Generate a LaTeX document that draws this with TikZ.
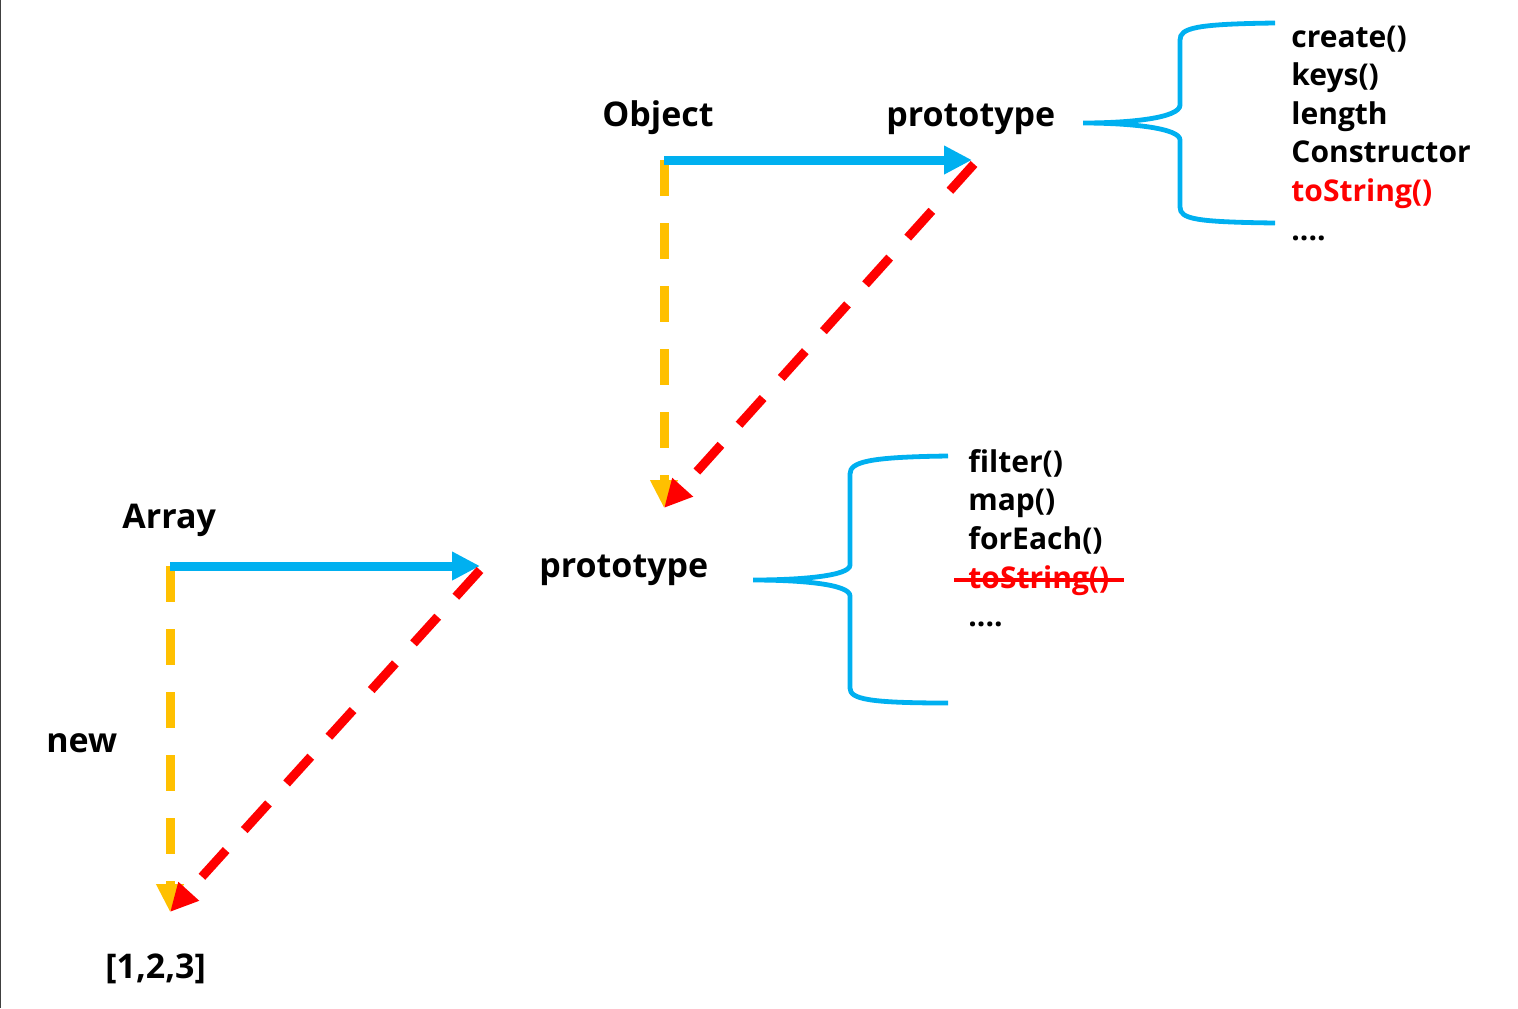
\documentclass[tikz,border=0pt]{standalone}
\usepackage{fontspec}
\setmainfont{Open Sans}
\usetikzlibrary{arrows.meta}
\definecolor{skyblue}{HTML}{00B0F0}
\definecolor{amber}{HTML}{FFC000}
\definecolor{hotred}{HTML}{FF0000}

\begin{document}
\begin{tikzpicture}[x=0.5pt, y=-0.5pt,
    label/.style={inner sep=0pt, anchor=base west, font=\fontsize{17}{20}\selectfont\bfseries},
    item/.style={inner sep=0pt, anchor=base west, font=\fontsize{15}{19}\selectfont\bfseries},
    link/.style={line width=4.5pt, skyblue, -{Triangle[length=14pt, width=13.5pt]}},
    newline/.style={line width=4.5pt, amber, dash pattern=on 18pt off 13.5pt, -{Triangle[length=14pt, width=13pt]}},
    protoline/.style={line width=4.5pt, hotred, dash pattern=on 18pt off 13.5pt, -{Triangle[length=14pt, width=13pt]}},
    brace/.style={line width=2.4pt, skyblue}]
    \useasboundingbox (0,0) rectangle (1518,1008);
    \draw[line width=0.5pt, black!75] (0.5,0) -- (0.5,1008);
    % labels
    \node[label] (object) at (602,126) {Object};
    \node[label] (objproto) at (886,126) {prototype};
    \node[label] (array) at (122,528) {Array};
    \node[label] (arrproto) at (539,577) {prototype};
    \node[label] (new) at (46,752) {new};
    \node[label] (inst) at (105,978) {[1,2,3]};
    % arrow ends
    \coordinate (o) at (664,160); \coordinate (op) at (972,160); \coordinate (ap) at (664,508);
    \coordinate (a) at (170,566); \coordinate (at) at (480,566); \coordinate (i) at (170,912);
    \draw[newline] (o) -- (ap);
    \draw[link] (o) -- (op);
    \draw[protoline] ([xshift=1pt, yshift=-2pt]op) -- (ap);
    \draw[newline] (a) -- (i);
    \draw[link] (a) -- (at);
    \draw[protoline] ([yshift=-2pt]at) -- (i);
    % Object.prototype members
    \draw[brace] (1275,23) .. controls (1195,24) and (1180,28) .. (1180,40) -- (1180,105)
        .. controls (1180,118) and (1130,123) .. (1083,123)
        .. controls (1130,123) and (1180,128) .. (1180,140) -- (1180,207)
        .. controls (1180,219) and (1195,222) .. (1275,223);
    \foreach \txt [count=\i from 0] in {create(), keys(), length, Constructor}
        \node[item] (up\i) at (1291,47+38.5*\i) {\txt};
    \node[item, hotred] (up4) at (1291,201) {toString()};
    \node[item] (up5) at (1291,240) {....};
    % Array.prototype members
    \draw[brace] (948,456) .. controls (868,457) and (850,462) .. (850,474) -- (850,565)
        .. controls (850,576) and (800,580) .. (753,580)
        .. controls (800,580) and (850,584) .. (850,596) -- (850,688)
        .. controls (850,699) and (868,703) .. (948,703);
    \foreach \txt [count=\i from 0] in {filter(), map(), forEach()}
        \node[item] (dn\i) at (968,472+38.5*\i) {\txt};
    \node[item, hotred] (dn3) at (968,588) {toString()};
    \draw[line width=2pt, hotred] ([xshift=-7pt]dn3.west) -- ([xshift=7pt]dn3.east);
    \node[item] (dn4) at (968,626) {....};
\end{tikzpicture}
\end{document}
